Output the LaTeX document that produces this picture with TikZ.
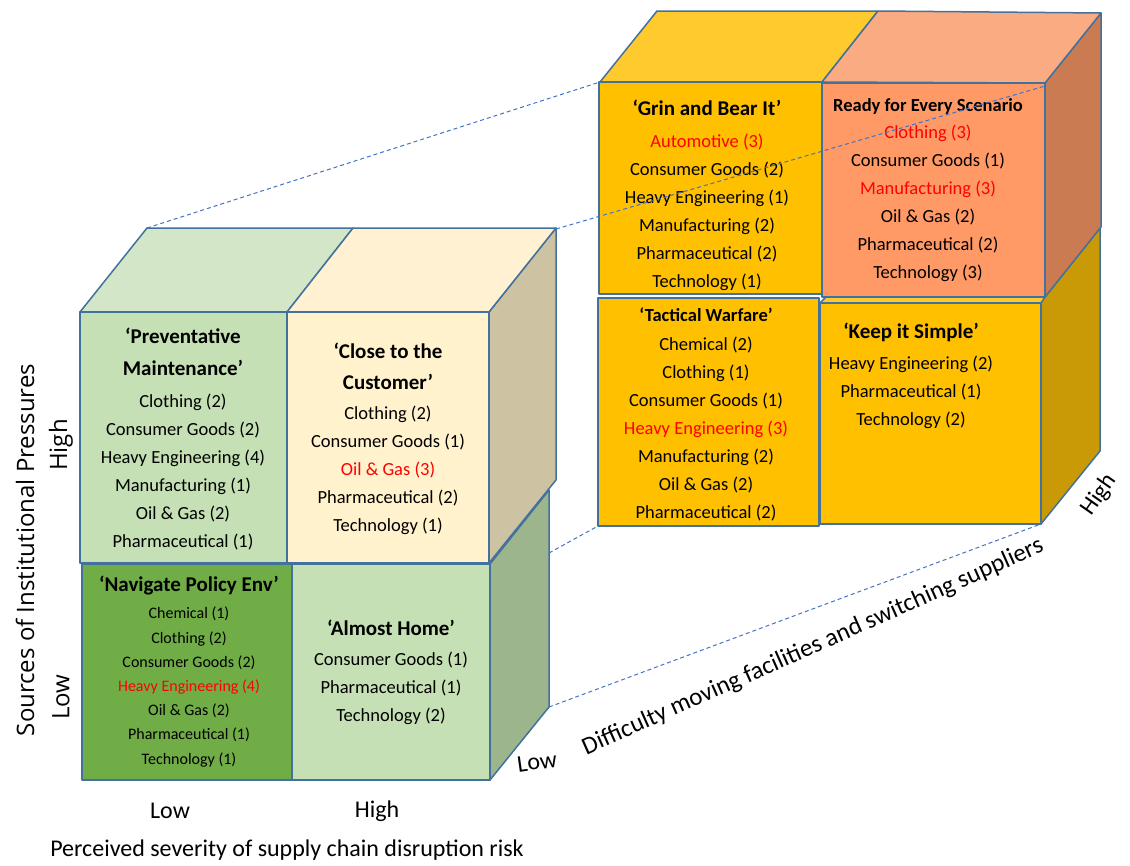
\documentclass[tikz,border=0pt]{standalone}
\usepackage{fontspec}
\setmainfont{Carlito}
\newfontfamily\axisfont{Open Sans}
\usetikzlibrary{positioning}
\definecolor{edgeblue}{HTML}{41719C}
\definecolor{linkblue}{HTML}{4472C4}
\definecolor{hotred}{HTML}{FF0000}
\definecolor{palegreen}{HTML}{C5E0B4}
\definecolor{topgreen}{HTML}{D3E6C8}
\definecolor{darkgreen}{HTML}{70AD47}
\definecolor{sidegreen}{HTML}{9DB58D}
\definecolor{cream}{HTML}{FFF2CC}
\definecolor{topcream}{HTML}{FFF1D2}
\definecolor{sidetan}{HTML}{CDC3A3}
\definecolor{gold}{HTML}{FFC000}
\definecolor{topgold}{HTML}{FECA2E}
\definecolor{sidegold}{HTML}{C99A06}
\definecolor{salmon}{HTML}{FF9966}
\definecolor{topsalmon}{HTML}{FBAB82}
\definecolor{sidesalmon}{HTML}{CB7B52}
\newcommand{\hot}[1]{\textcolor{hotred}{#1}}
\newcommand{\headbig}[1]{{\fontsize{21}{28}\selectfont\bfseries #1}}
\newcommand{\headmid}[1]{{\fontsize{18.5}{28}\selectfont\bfseries #1}}
\begin{document}
\begin{tikzpicture}[x=1pt,y=-1pt,
  face/.style={draw=edgeblue,line width=1.5pt,line join=round},
  link/.style={draw=linkblue,line width=1pt,dash pattern=on 4pt off 3pt},
  cellnote/.style={align=center,anchor=north,inner sep=0pt,font=\fontsize{18.5}{28}\selectfont},
  smallnote/.style={cellnote,font=\fontsize{16}{24.2}\selectfont},
  axisnote/.style={inner sep=0pt,font=\fontsize{24}{28}\selectfont},
  sidenote/.style={inner sep=0pt,rotate=90,font=\axisfont\fontsize{24}{28}\selectfont}]
\useasboundingbox (0,0) rectangle (1130,865);
% left block, sides and tops
\draw[face,fill=sidegreen] (490,564) -- (549,490) -- (549,707) -- (490,780) -- cycle;
\draw[face,fill=sidetan] (489,312) -- (556,228) -- (556,480) -- (489,563) -- cycle;
\draw[face,fill=topgreen] (80,312) -- (147,228) -- (353,228) -- (287,312) -- cycle;
\draw[face,fill=topcream] (287,312) -- (353,228) -- (556,228) -- (489,312) -- cycle;
% left block, front cells
\draw[face,fill=darkgreen] (82,564) rectangle (292,780);
\draw[face,fill=palegreen] (292,564) rectangle (490,780);
\draw[face,fill=palegreen] (80,312) rectangle (287,563);
\draw[face,fill=cream] (287,312) rectangle (489,563);
% right block, sides and tops
\draw[face,fill=sidegold] (1041,302) -- (1100,228) -- (1100,451) -- (1041,524) -- cycle;
\draw[face,fill=sidesalmon] (1045,83) -- (1101,13) -- (1101,227) -- (1045,297) -- cycle;
\draw[face,fill=topgold] (600,82) -- (657,11) -- (878,11) -- (822,82) -- cycle;
\draw[face,fill=topsalmon] (822,82) -- (878,11) -- (1101,13) -- (1045,83) -- cycle;
\draw[face,fill=topgold] (820,303) -- (826,297) -- (1045,297) -- (1041,303) -- cycle;
% right block, front cells
\draw[face,fill=gold] (820,303) rectangle (1041,524);
\draw[face,fill=gold] (598,298) rectangle (819,526);
\draw[face,fill=gold] (599,82) rectangle (822,294);
\draw[face,fill=salmon] (822,83) rectangle (1045,297);
% cell texts
\node[cellnote] at (183,328) (prevent) {\headbig{‘Preventative}\\[4pt]\headbig{Maintenance’}\\[4pt]Clothing (2)\\Consumer Goods (2)\\Heavy Engineering (4)\\Manufacturing (1)\\Oil \& Gas (2)\\Pharmaceutical (1)};
\node[cellnote] at (388,343) (close) {\headbig{‘Close to the}\\[3pt]\headbig{Customer’}\\[2pt]Clothing (2)\\Consumer Goods (1)\\\hot{Oil \& Gas (3)}\\Pharmaceutical (2)\\Technology (1)};
\node[smallnote] at (189,576) (navigate) {\headbig{‘Navigate Policy Env’}\\[3pt]Chemical (1)\\Clothing (2)\\Consumer Goods (2)\\\hot{Heavy Engineering (4)}\\Oil \& Gas (2)\\Pharmaceutical (1)\\Technology (1)};
\node[cellnote] at (391,620) (almost) {\headbig{‘Almost Home’}\\[2pt]Consumer Goods (1)\\Pharmaceutical (1)\\Technology (2)};
\node[cellnote] at (707,100) (grin) {\headbig{‘Grin and Bear It’}\\[4pt]\hot{Automotive (3)}\\Consumer Goods (2)\\Heavy Engineering (1)\\Manufacturing (2)\\Pharmaceutical (2)\\Technology (1)};
\node[cellnote] at (928,98) (ready) {\headmid{Ready for Every Scenario}\\[-1pt]\hot{Clothing (3)}\\Consumer Goods (1)\\\hot{Manufacturing (3)}\\Oil \& Gas (2)\\Pharmaceutical (2)\\Technology (3)};
\node[cellnote] at (706,308) (tactical) {\headmid{‘Tactical Warfare’}\\[1pt]Chemical (2)\\Clothing (1)\\Consumer Goods (1)\\\hot{Heavy Engineering (3)}\\Manufacturing (2)\\Oil \& Gas (2)\\Pharmaceutical (2)};
\node[cellnote] at (911,323) (keep) {\headbig{‘Keep it Simple’}\\[3pt]Heavy Engineering (2)\\Pharmaceutical (1)\\Technology (2)};
% perspective lines between the blocks
\coordinate (ltopback) at (147,228);
\coordinate (rtopfront) at (600,82);
\coordinate (ltopright) at (556,229);
\coordinate (rtopright) at (1045,86);
\coordinate (lmidright) at (549,553);
\coordinate (rbotleft) at (598,526);
\coordinate (lbotright) at (549,707);
\coordinate (rbotright) at (1041,524);
\draw[link] (ltopback) -- (rtopfront);
\draw[link] (ltopright) -- (rtopright);
\draw[link] (lmidright) -- (rbotleft);
\draw[link] (lbotright) -- (rbotright);
% axes
\node[sidenote] at (25,550) (yaxis) {Sources of Institutional Pressures};
\node[sidenote] at (61,445) (yhigh) {High};
\node[sidenote] at (61,697) (ylow) {Low};
\node[axisnote] at (170,811) (xlow) {Low};
\node[axisnote] at (377,811) (xhigh) {High};
\node[axisnote] at (287,850) (xaxis) {Perceived severity of supply chain disruption risk};
\node[axisnote,rotate=8] at (537,762) (zlow) {Low};
\node[axisnote,rotate=24,font=\fontsize{25}{28}\selectfont] at (813,647) (zaxis) {Difficulty moving facilities and switching suppliers};
\node[axisnote,rotate=55] at (1099,495) (zhigh) {High};
\end{tikzpicture}
\end{document}
